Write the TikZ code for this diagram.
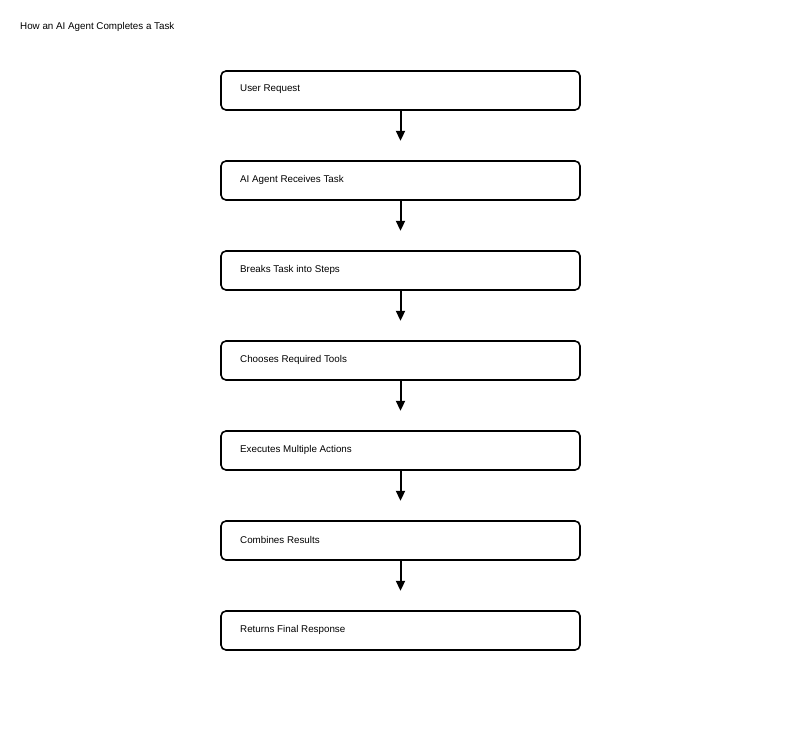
\documentclass[tikz,border=0pt]{standalone}
\usepackage{fontspec}
\setmainfont{Liberation Sans}
\usetikzlibrary{arrows.meta,calc}
\begin{document}
\begin{tikzpicture}[x=1pt,y=-1pt,
  stepbox/.style={draw=black, line width=1.6pt, rounded corners=5pt, minimum width=359pt, minimum height=39pt, inner sep=0pt, fill=white},
  lbl/.style={anchor=west, font=\fontsize{9.8}{11}\selectfont, inner sep=0pt},
  flow/.style={line width=2pt, -{Triangle[length=10pt,width=9pt]}}]
\useasboundingbox (0,0) rectangle (800,730);
\fill[white] (0,0) rectangle (800,730);
\node[lbl] (title) at (20,26.5) {How an AI Agent Completes a Task};
\foreach \i/\t in {0/User Request,1/AI Agent Receives Task,2/Breaks Task into Steps,3/Chooses Required Tools,4/Executes Multiple Actions,5/Combines Results,6/Returns Final Response}{
  \node[stepbox] (b\i) at (400.5,{90.5+90*\i}) {};
  \node[lbl] (t\i) at (240,{89.5+90*\i}) {\t};
}
\foreach \i in {0,...,5}{
  \coordinate (e\i) at ($(b\i.south)+(0,30)$);
  \draw[flow] (b\i.south) -- (e\i);
}
\end{tikzpicture}
\end{document}
